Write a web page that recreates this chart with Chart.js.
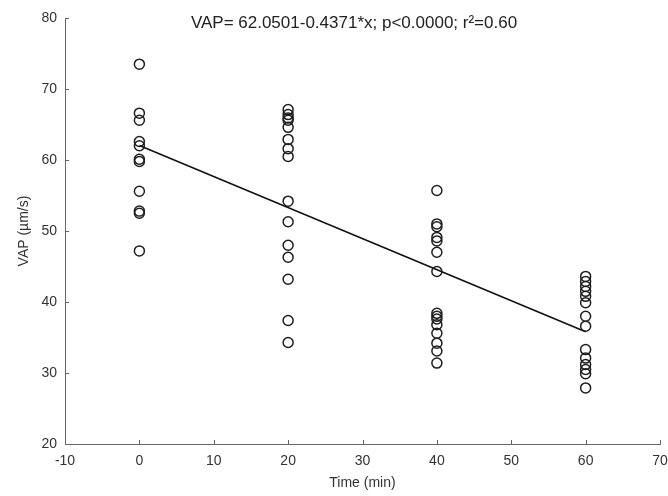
<!DOCTYPE html>
<html>
<head>
<meta charset="utf-8">
<script src="https://cdn.jsdelivr.net/npm/chart.js@4.4.1/dist/chart.umd.min.js"></script>
<style>
  html, body { margin: 0; padding: 0; background: #fff; }
  #wrap { width: 668px; height: 496px; }
</style>
</head>
<body>
<div id="wrap"><canvas id="canvas"></canvas></div>
<script>
// sampling times (min) and VAP readings (um/s) at each time
var times = [0, 20, 40, 60];
var vap0 = [73.5, 66.6, 65.6, 62.6, 62.0, 60.1, 59.8, 55.6, 52.8, 52.5, 47.2];
var vap20 = [67.1, 66.4, 65.9, 65.6, 64.6, 62.9, 61.6, 60.5, 54.2, 51.3, 48.0, 46.3, 43.2, 37.4, 34.3];
var vap40 = [55.7, 51.0, 50.6, 49.1, 48.6, 47.0, 44.3, 38.4, 38.0, 37.6, 36.8, 35.6, 34.2, 33.1, 31.4];
var vap60 = [43.6, 42.9, 42.2, 41.5, 40.8, 39.9, 38.0, 36.6, 33.3, 32.1, 31.2, 30.5, 29.9, 27.9];

// fitted regression
var intercept = 62.0501;
var slope = -0.4371;
var fitText = 'VAP= 62.0501-0.4371*x; p<0.0000; r\u00b2=0.60';

var xTicks = [-10, 0, 10, 20, 30, 40, 50, 60, 70];
var yTicks = [20, 30, 40, 50, 60, 70, 80];

var groups = [vap0, vap20, vap40, vap60];
var scatter = [];
groups.forEach(function(g, i) {
    g.forEach(function(v) { scatter.push({x: times[i], y: v}); });
});

var fitLine = [
    {x: times[0], y: intercept + slope * times[0]},
    {x: times[3], y: intercept + slope * times[3]}
];

var FONT = '"Liberation Sans", Arial, sans-serif';

// small inward tick marks plus the fit label inside the plot
var extras = {
    id: 'extras',
    afterDraw: function(chart) {
        var ctx = chart.ctx;
        var xs = chart.scales.x, ys = chart.scales.y;
        var area = chart.chartArea;
        ctx.save();
        ctx.strokeStyle = '#666';
        ctx.lineWidth = 1;
        ctx.beginPath();
        xTicks.forEach(function(t) {
            var px = Math.round(xs.getPixelForValue(t)) + 0.5;
            ctx.moveTo(px, area.bottom);
            ctx.lineTo(px, area.bottom - 4);
        });
        yTicks.forEach(function(t) {
            var py = Math.round(ys.getPixelForValue(t)) + 0.5;
            ctx.moveTo(area.left, py);
            ctx.lineTo(area.left + 4, py);
        });
        ctx.stroke();

        ctx.fillStyle = '#222';
        ctx.font = '17px ' + FONT;
        ctx.textAlign = 'center';
        ctx.textBaseline = 'middle';
        ctx.fillText(fitText, 354, area.top + 5);
        ctx.restore();
    }
};

window.onload = function() {
    var ctx = document.getElementById('canvas').getContext('2d');
    window.myChart = new Chart(ctx, {
        type: 'scatter',
        data: {
            datasets: [{
                label: 'VAP',
                data: scatter,
                pointStyle: 'circle',
                pointRadius: 5,
                pointHoverRadius: 5,
                borderWidth: 1.5,
                borderColor: '#1e1e1e',
                backgroundColor: 'rgba(0,0,0,0)'
            }, {
                type: 'line',
                label: 'fit',
                data: fitLine,
                borderColor: '#111',
                borderWidth: 1.6,
                pointRadius: 0,
                fill: false
            }]
        },
        options: {
            responsive: true,
            maintainAspectRatio: false,
            animation: false,
            layout: { padding: { top: 18, right: 0, left: 12, bottom: 0 } },
            plugins: {
                legend: { display: false },
                tooltip: { enabled: false }
            },
            scales: {
                x: {
                    type: 'linear',
                    min: -10,
                    max: 70,
                    afterBuildTicks: function(s) { s.ticks = xTicks.map(function(v) { return {value: v}; }); },
                    afterFit: function(s) { s.height = 52; s.paddingLeft = 0; s.paddingRight = 8; },
                    grid: { drawOnChartArea: false, drawTicks: false },
                    border: { color: '#666', width: 1 },
                    ticks: { color: '#333', font: { family: FONT, size: 14 }, padding: 9, maxRotation: 0 },
                    title: { display: true, text: 'Time (min)', color: '#333', font: { family: FONT, size: 14 }, padding: { top: 4 } }
                },
                y: {
                    type: 'linear',
                    min: 20,
                    max: 80,
                    afterBuildTicks: function(s) { s.ticks = yTicks.map(function(v) { return {value: v}; }); },
                    afterFit: function(s) { s.width = 53; s.paddingTop = 0; s.paddingBottom = 0; },
                    grid: { drawOnChartArea: false, drawTicks: false },
                    border: { color: '#666', width: 1 },
                    ticks: { color: '#333', font: { family: FONT, size: 14 }, padding: 8 },
                    title: { display: true, text: 'VAP (\u00b5m/s)', color: '#333', font: { family: FONT, size: 14 }, padding: { bottom: 4 } }
                }
            }
        },
        plugins: [extras]
    });
};
</script>
</body>
</html>
